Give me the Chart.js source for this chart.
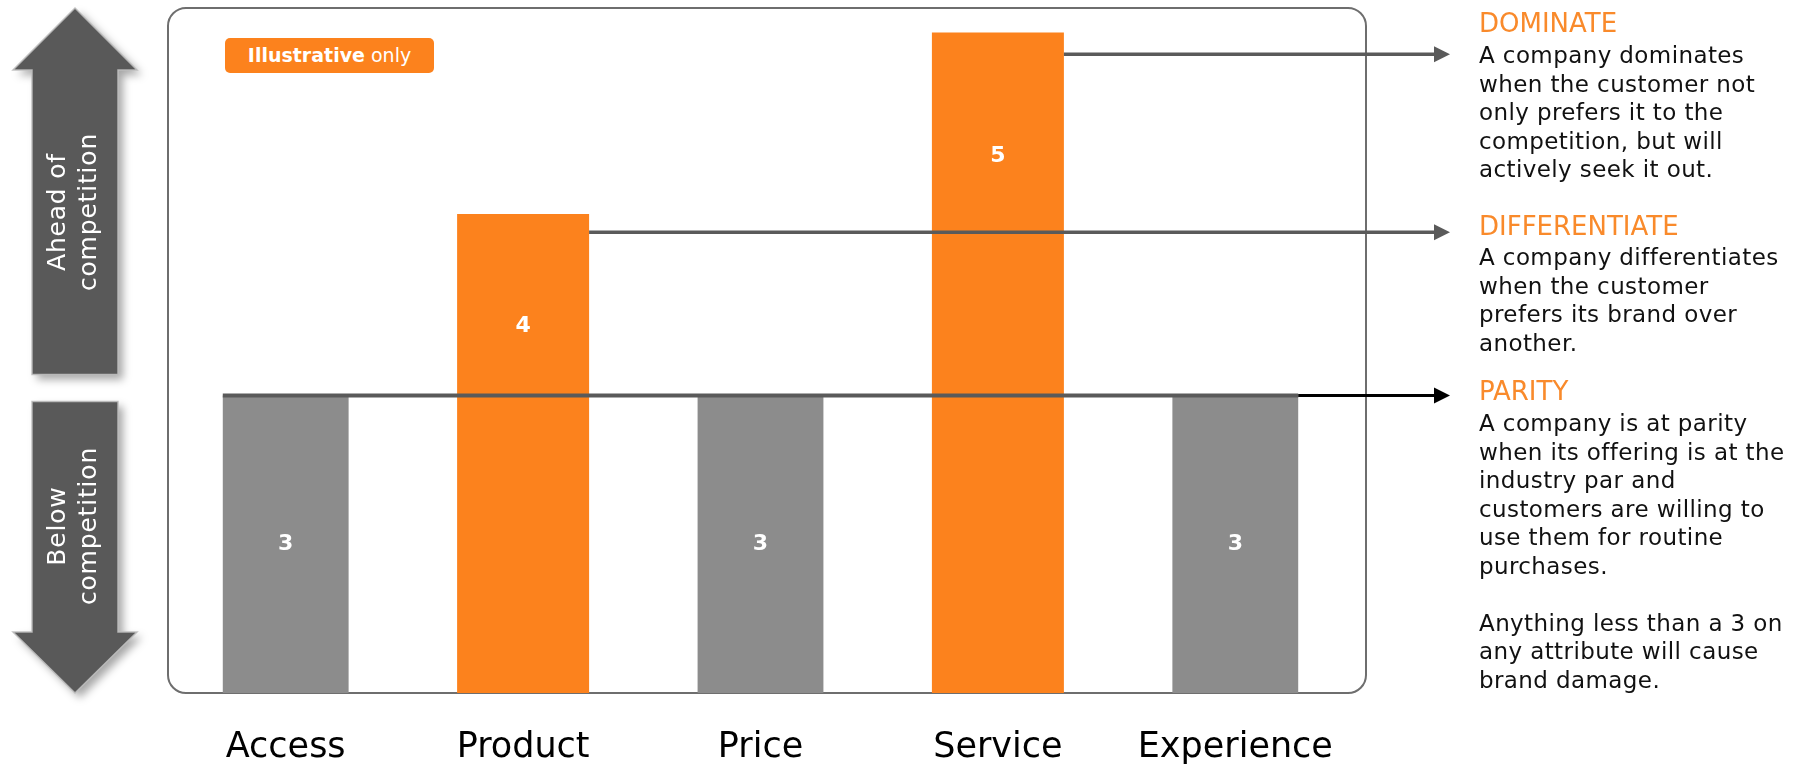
<!DOCTYPE html>
<html>
<head>
<meta charset="utf-8">
<script src="https://cdn.jsdelivr.net/npm/chart.js@4.4.1/dist/chart.umd.min.js"></script>
<style>
  html, body { margin: 0; padding: 0; background: #fff; }
  #wrap { position: relative; width: 1812px; height: 765px; font-family: 'DejaVu Sans', sans-serif; }
  #chart { position: absolute; left: 0; top: 0; }
  .head { position: absolute; left: 1479px; color: #F98A2B; font-size: 26px; line-height: 30px; white-space: nowrap; }
  .note { position: absolute; left: 1479px; color: #111; font-size: 23px; line-height: 28.5px; letter-spacing: 0.4px; white-space: nowrap; }
  .badge { position: absolute; left: 225px; top: 38px; width: 209px; height: 35px; line-height: 35px;
           background: #FC821D; border-radius: 5px; color: #fff; font-size: 19px; text-align: center; }
  .side { position: absolute; width: 300px; height: 62px; color: #fff; font-size: 25px; line-height: 31px;
          letter-spacing: 0.8px; text-align: center; white-space: nowrap; transform: rotate(-90deg); }
</style>
</head>
<body>
<div id="wrap">
  <canvas id="chart" width="1812" height="765"></canvas>

  <div class="badge"><b>Illustrative</b> only</div>

  <div class="side" style="left:-78px; top:181px;">Ahead of<br>competition</div>
  <div class="side" style="left:-78px; top:495px;">Below<br>competition</div>

  <div class="head" style="top:8px;">DOMINATE</div>
  <div class="note" style="top:41px;">A company dominates<br>when the customer not<br>only prefers it to the<br>competition, but will<br>actively seek it out.</div>

  <div class="head" style="top:211px;">DIFFERENTIATE</div>
  <div class="note" style="top:243px;">A company differentiates<br>when the customer<br>prefers its brand over<br>another.</div>

  <div class="head" style="top:376px;">PARITY</div>
  <div class="note" style="top:409px;">A company is at parity<br>when its offering is at the<br>industry par and<br>customers are willing to<br>use them for routine<br>purchases.<br><br>Anything less than a 3 on<br>any attribute will cause<br>brand damage.</div>
</div>

<script>
// attribute scores (illustrative)
const categories = ['Access', 'Product', 'Price', 'Service', 'Experience'];
const scores = [3, 4, 3, 5, 3];
const parityScore = 3;

// level guide lines: which score they belong to and where the line sits on the value axis
const levelScores = [5, 4, 3];
const levelLines = [4.88, 3.9, 3.0];

const GRAY = '#8C8C8C';
const ORANGE = '#FC821D';
const DARK = '#5A5A5A';
const FONT = "'DejaVu Sans', sans-serif";

function barAt(chart, i) {
    const meta = chart.getDatasetMeta(scores[i] <= parityScore ? 0 : 1);
    return meta.data[i];
}

function arrowHead(ctx, x, y, color) {
    ctx.fillStyle = color;
    ctx.beginPath();
    ctx.moveTo(x, y);
    ctx.lineTo(x - 16, y - 8);
    ctx.lineTo(x - 16, y + 8);
    ctx.closePath();
    ctx.fill();
}

// rounded frame around the plot
const framePlugin = {
    id: 'frame',
    beforeDatasetsDraw(chart) {
        const { ctx, chartArea: a } = chart;
        ctx.save();
        ctx.strokeStyle = '#6E6E6E';
        ctx.lineWidth = 2;
        ctx.beginPath();
        ctx.roundRect(a.left + 1, a.top - 1, a.right + 12 - a.left - 1, a.bottom - a.top + 1, 18);
        ctx.stroke();
        ctx.restore();
    }
};

// big up / down arrows on the left
const sideArrows = {
    id: 'sideArrows',
    afterDraw(chart) {
        const { ctx, chartArea: a } = chart;
        const py = chart.scales.y.getPixelForValue(parityScore);
        const cx = 75, sw = 43, hw = 62;
        const shapes = [
            [[cx, a.top - 1], [cx + hw, a.top + 61], [cx + sw, a.top + 61], [cx + sw, py - 21],
             [cx - sw, py - 21], [cx - sw, a.top + 61], [cx - hw, a.top + 61]],
            [[cx - sw, py + 6], [cx + sw, py + 6], [cx + sw, a.bottom - 61], [cx + hw, a.bottom - 61],
             [cx, a.bottom], [cx - hw, a.bottom - 61], [cx - sw, a.bottom - 61]]
        ];
        shapes.forEach(pts => {
            ctx.save();
            ctx.beginPath();
            pts.forEach((p, k) => k ? ctx.lineTo(p[0], p[1]) : ctx.moveTo(p[0], p[1]));
            ctx.closePath();
            ctx.shadowColor = 'rgba(0,0,0,0.35)';
            ctx.shadowBlur = 9;
            ctx.shadowOffsetX = 5;
            ctx.shadowOffsetY = 5;
            ctx.fillStyle = '#595959';
            ctx.fill();
            ctx.shadowColor = 'transparent';
            ctx.strokeStyle = 'rgba(190,190,190,0.9)';
            ctx.lineWidth = 1.5;
            ctx.stroke();
            ctx.restore();
        });
    }
};

// level lines, arrows and the value inside each bar
const levelPlugin = {
    id: 'levels',
    afterDatasetsDraw(chart) {
        const { ctx, chartArea: a } = chart;
        const yScale = chart.scales.y;
        const tipX = a.right + 96;
        ctx.save();
        levelScores.forEach((s, k) => {
            const py = yScale.getPixelForValue(levelLines[k]);
            if (s === parityScore) {
                const first = barAt(chart, 0);
                const last = barAt(chart, scores.length - 1);
                const x0 = first.x - first.width / 2;
                const x1 = last.x + last.width / 2;
                ctx.strokeStyle = DARK;
                ctx.lineWidth = 4;
                ctx.beginPath(); ctx.moveTo(x0, py); ctx.lineTo(x1, py); ctx.stroke();
                ctx.strokeStyle = '#000';
                ctx.lineWidth = 3;
                ctx.beginPath(); ctx.moveTo(x1, py); ctx.lineTo(tipX - 12, py); ctx.stroke();
                arrowHead(ctx, tipX, py, '#000');
            } else {
                const bar = barAt(chart, scores.indexOf(s));
                ctx.strokeStyle = DARK;
                ctx.lineWidth = 3.5;
                ctx.beginPath(); ctx.moveTo(bar.x + bar.width / 2, py); ctx.lineTo(tipX - 12, py); ctx.stroke();
                arrowHead(ctx, tipX, py, DARK);
            }
        });

        ctx.fillStyle = '#fff';
        ctx.font = 'bold 22px ' + FONT;
        ctx.textAlign = 'center';
        ctx.textBaseline = 'middle';
        scores.forEach((v, i) => {
            const bar = barAt(chart, i);
            const base = Math.min(bar.base, a.bottom);
            let ly;
            if (v <= parityScore) {
                ly = (bar.y + base) / 2;
            } else {
                const below = yScale.getPixelForValue(levelLines[levelScores.indexOf(v - 1)]);
                ly = bar.y + 0.62 * (below - bar.y);
            }
            ctx.fillText(String(v), bar.x, ly);
        });
        ctx.restore();
    }
};

const ctx = document.getElementById('chart').getContext('2d');
new Chart(ctx, {
    type: 'bar',
    data: {
        labels: categories,
        datasets: [{
            label: 'Parity',
            data: scores.map(v => v <= parityScore ? v : null),
            backgroundColor: GRAY,
            barPercentage: 0.53,
            categoryPercentage: 1,
            grouped: false
        }, {
            label: 'Ahead of competition',
            data: scores.map(v => v > parityScore ? v : null),
            backgroundColor: ORANGE,
            barPercentage: 0.556,
            categoryPercentage: 1,
            grouped: false
        }]
    },
    options: {
        responsive: false,
        animation: false,
        layout: { padding: { left: 167, right: 458, top: 9, bottom: 0 } },
        plugins: { legend: { display: false }, tooltip: { enabled: false } },
        scales: {
            x: {
                grid: { display: false },
                border: { display: false },
                ticks: { color: '#000', padding: 26, font: { family: FONT, size: 35 } },
                afterFit(scale) { scale.height = 72; }
            },
            y: { display: false, min: 1.36, max: 5.13 }
        }
    },
    plugins: [framePlugin, sideArrows, levelPlugin]
});
</script>
</body>
</html>
